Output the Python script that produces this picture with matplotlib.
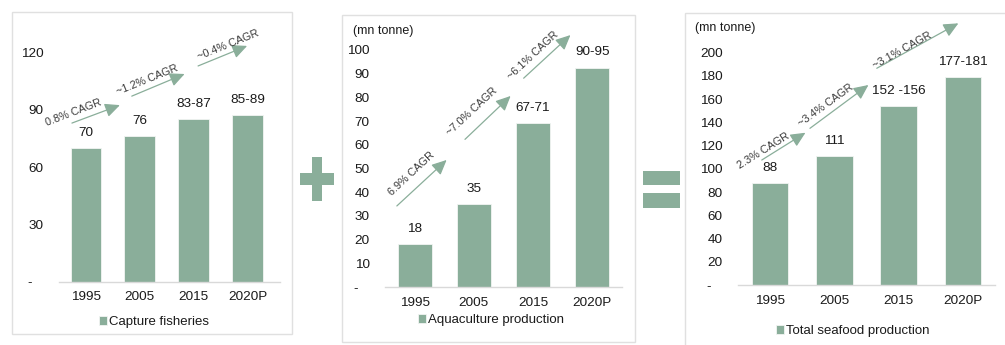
import matplotlib
matplotlib.use("Agg")
import matplotlib.pyplot as plt
import matplotlib.patches as patches
from matplotlib.ticker import FixedLocator, FuncFormatter

plt.rcParams['font.family'] = ['Liberation Sans', 'DejaVu Sans']

years = ['1995', '2005', '2015', '2020P']

capture_vals = [70, 76, 85, 87]
capture_labels = ['70', '76', '83-87', '85-89']
capture_cagr = ['0.8% CAGR', '~1.2% CAGR', '~0.4% CAGR']

aqua_vals = [18, 35, 69, 92.5]
aqua_labels = ['18', '35', '67-71', '90-95']
aqua_cagr = ['6.9% CAGR', '~7.0% CAGR', '~6.1% CAGR']

total_vals = [88, 111, 154, 179]
total_labels = ['88', '111', '152 -156', '177-181']
total_cagr = ['2.3% CAGR', '~3.4% CAGR', '~3.1% CAGR']

BAR = '#8aae9a'
GRID = '#d9d9d9'
TXT = '#1a1a1a'

W, H = 1005, 345
fig = plt.figure(figsize=(W / 100, H / 100), dpi=100)


def fx(x):
    return x / W


def fy(y):
    return (H - y) / H


def add_ax(left, right, base, top):
    return fig.add_axes([fx(left), fy(base), fx(right - left), (base - top) / H])


def fmt_tick(v, _):
    return '-   ' if v == 0 else f'{v:g}'


def panel(ax, vals, labels, ymax, step, xmax, legend_text, legend_xy,
          cagr, arrows, text_pos, rot):
    x = range(len(years))
    bars = ax.bar(x, vals, width=0.57, color=BAR, edgecolor='#f2f5f3',
                  linewidth=0.6, label=legend_text)
    ax.set_xlim(-0.5, xmax)
    ax.set_ylim(0, ymax)
    ax.yaxis.set_major_locator(FixedLocator(list(range(0, ymax + 1, step))))
    ax.yaxis.set_major_formatter(FuncFormatter(fmt_tick))
    ax.set_xticks(list(x))
    ax.set_xticklabels(years)
    ax.tick_params(axis='both', length=0, labelsize=9.7, colors=TXT)
    ax.tick_params(axis='y', pad=11)
    ax.tick_params(axis='x', pad=7)
    for s in ('left', 'right', 'top'):
        ax.spines[s].set_visible(False)
    ax.spines['bottom'].set_color(GRID)
    ax.spines['bottom'].set_linewidth(1.0)

    for b, lab in zip(bars, labels):
        ax.annotate(lab, (b.get_x() + b.get_width() / 2, b.get_height()),
                    xytext=(0, 11), textcoords='offset points',
                    ha='center', va='center', fontsize=9.7, color=TXT)

    # growth arrows with their CAGR captions
    for (start, end), txt, tp, r in zip(arrows, cagr, text_pos, rot):
        ax.annotate('', xy=end, xytext=start, annotation_clip=False,
                    arrowprops=dict(arrowstyle='-|>,head_length=0.75,head_width=0.35',
                                    color=BAR, lw=0.9, mutation_scale=12,
                                    shrinkA=0, shrinkB=0))
        ax.text(tp[0], tp[1], txt, rotation=r, rotation_mode='anchor',
                ha='center', va='center', fontsize=7.8, color='#3a3a3a',
                clip_on=False)

    ax.legend(loc='center', bbox_to_anchor=(fx(legend_xy[0]), fy(legend_xy[1])),
              bbox_transform=fig.transFigure, frameon=False, fontsize=9.5,
              handlelength=0.6, handleheight=0.6, handletextpad=0.15,
              borderpad=0, labelcolor=TXT)


# panel frames
for l, t, r, b in [(12, 12, 292, 334), (342, 15, 635, 342), (685, 13, 1010, 350)]:
    fig.add_artist(patches.Rectangle((fx(l), fy(b)), fx(r - l), (b - t) / H,
                                     transform=fig.transFigure, fill=False,
                                     edgecolor='#e0e0e0', linewidth=1.0))

ax1 = add_ax(59, 280, 281.6, 52.4)
panel(ax1, capture_vals, capture_labels, 120, 30, 3.6, 'Capture fisheries',
      (154, 322), capture_cagr,
      [((-0.26, 83.0), (0.63, 92.4)), ((0.85, 97.1), (1.83, 108.7)),
       ((2.08, 112.9), (2.99, 123.4))],
      [(-0.24, 88.5), (1.13, 105.6), (2.64, 123.9)], [21, 22, 22])

ax2 = add_ax(385, 622, 287, 50)
panel(ax2, aqua_vals, aqua_labels, 100, 10, 3.5, 'Aquaculture production',
      (491, 320), aqua_cagr,
      [((-0.30, 34.2), (0.54, 53.6)), ((0.85, 62.3), (1.62, 80.6)),
       ((1.84, 88.1), (2.63, 106.3))],
      [(-0.06, 47.9), (0.96, 74.1), (2.0, 97.5)], [43, 43, 43])

ax3 = add_ax(738, 995, 285, 52.7)
panel(ax3, total_vals, total_labels, 200, 20, 3.5, 'Total seafood production',
      (853, 331), total_cagr,
      [((-0.13, 107.6), (0.55, 131.1)), ((0.62, 134.9), (1.53, 172.2)),
       ((1.66, 186.6), (2.93, 225.3))],
      [(-0.11, 115.8), (0.86, 154.8), (2.05, 201.5)], [32, 36, 29])

for ax, xpx, ypx in [(ax2, 353, 31), (ax3, 695, 28)]:
    fig.text(fx(xpx), fy(ypx), '(mn tonne)', ha='left', va='center',
             fontsize=9, color=TXT)

# plus sign between first and second panel
for l, t, r, b in [(312, 157, 322, 201), (300, 173, 334, 185)]:
    fig.add_artist(patches.Rectangle((fx(l), fy(b)), fx(r - l), (b - t) / H,
                                     transform=fig.transFigure, color=BAR, lw=0))
# equals sign between second and third panel
for l, t, r, b in [(643, 171, 680, 185), (643, 193, 680, 208)]:
    fig.add_artist(patches.Rectangle((fx(l), fy(b)), fx(r - l), (b - t) / H,
                                     transform=fig.transFigure, color=BAR, lw=0))

fig.savefig('out.png', dpi=100, facecolor='white')
